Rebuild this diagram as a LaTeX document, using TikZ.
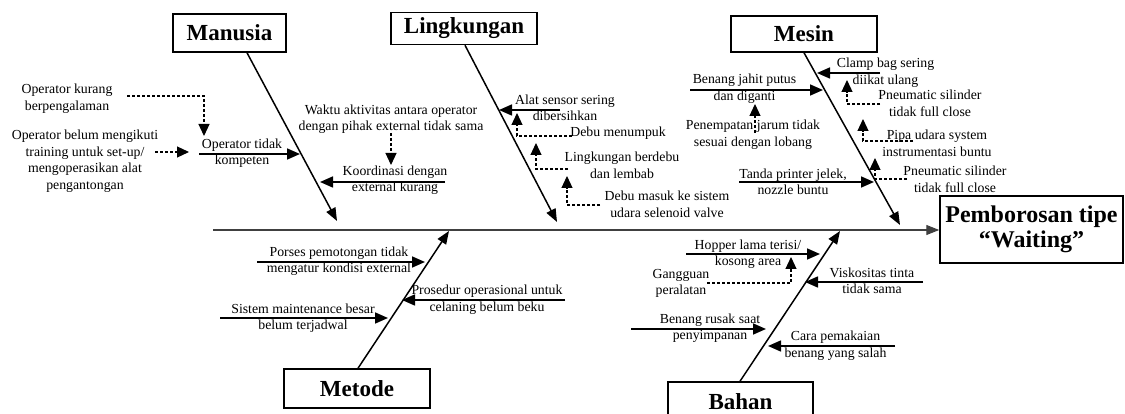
\documentclass[tikz,border=0pt]{standalone}
\usepackage{fontspec}
\setmainfont{Liberation Serif}
\usetikzlibrary{arrows.meta}
\begin{document}
\begin{tikzpicture}[x=1pt,y=-1pt,
  cat/.style={draw, line width=1.5pt, inner sep=0pt, font=\fontsize{23}{25}\selectfont\bfseries},
  lbl/.style={align=center, inner sep=0pt, font=\fontsize{13.8}{16.5}\selectfont},
  arr/.style={line width=1.6pt, -{Triangle[length=13pt,width=11pt]}},
  darr/.style={line width=1.2pt, dash pattern=on 3pt off 2pt, -{Triangle[length=12pt,width=11pt]}},
  bone/.style={line width=1.5pt, -{Triangle[length=13pt,width=10pt]}},
  spine/.style={line width=1.2pt, draw=black!75, -{Triangle[length=13pt,width=10pt]}}]
\useasboundingbox (0,0) rectangle (1125,414);
\fill[white] (0,0) rectangle (1125,414);

% category boxes
\node[cat, minimum width=113pt, minimum height=38pt] (manusia) at (229.5,33) {Manusia};
\node[cat, minimum width=146pt, minimum height=32pt] (lingkungan) at (464,28.5) {Lingkungan};
\node[cat, minimum width=146pt, minimum height=36pt] (mesin) at (804,34) {Mesin};
\node[cat, minimum width=146pt, minimum height=39pt] (metode) at (357,388.5) {Metode};
\node[cat, minimum width=145pt, minimum height=40pt] (bahan) at (740.5,402) {Bahan};
\node[cat, minimum width=183pt, minimum height=67pt, align=center, font=\fontsize{24}{25}\selectfont\bfseries] (effect) at (1031.5,229.5) {Pemborosan tipe\\“Waiting”};

% spine and bones
\coordinate (sp0) at (213,230);
\draw[spine] (sp0) -- (effect.west |- sp0);
\coordinate (bm) at (337,221);
\coordinate (bl) at (557,222);
\coordinate (bs) at (900,225);
\coordinate (bt) at (449,231);
\coordinate (bb) at (840,231);
\draw[bone] (247,0 |- manusia.south) -- (bm);
\draw[bone] (465,0 |- lingkungan.south) -- (bl);
\draw[bone] (804,0 |- mesin.south) -- (bs);
\draw[bone] (358,0 |- metode.north) -- (bt);
\draw[bone] (740,0 |- bahan.north) -- (bb);

% ---------- Manusia ----------
\node[lbl] (t1) at (67,98.5) {Operator kurang\\berpengalaman};
\node[lbl] (t2) at (85,161) {Operator belum mengikuti\\training untuk set-up/\\mengoperasikan alat\\pengantongan};
\node[lbl] (t3) at (242,153) {Operator tidak\\kompeten};
\node[lbl] (t4) at (391,119) {Waktu aktivitas antara operator\\dengan pihak external tidak sama};
\node[lbl] (t5) at (395,180) {Koordinasi dengan\\external kurang};
\coordinate (a3s) at (199,154); \coordinate (a3e) at (300,154);
\draw[arr] (a3s) -- (a3e);
\coordinate (a5s) at (445,182); \coordinate (a5e) at (320,182);
\draw[arr] (a5s) -- (a5e);
\coordinate (d1s) at (127,96); \coordinate (d1e) at (204,136);
\draw[darr] (d1s) -| (d1e);
\coordinate (d2s) at (155,152); \coordinate (d2e) at (189,152);
\draw[darr] (d2s) -- (d2e);
\coordinate (d3s) at (391,133); \coordinate (d3e) at (391,165);
\draw[darr] (d3s) -- (d3e);

% ---------- Lingkungan ----------
\node[lbl] (t6) at (565,108) {Alat sensor sering\\dibersihkan};
\node[lbl] (t7) at (618,133) {Debu menumpuk};
\node[lbl] (t8) at (622,165.5) {Lingkungan berdebu\\dan lembab};
\node[lbl] (t9) at (667,204.5) {Debu masuk ke sistem\\udara selenoid valve};
\coordinate (a6s) at (560,110); \coordinate (a6e) at (499,110);
\draw[arr] (a6s) -- (a6e);
\coordinate (d4s) at (572,136); \coordinate (d4e) at (517,113);
\draw[darr] (d4s) -| (d4e);
\coordinate (d5s) at (568,169); \coordinate (d5e) at (536,143);
\draw[darr] (d5s) -| (d5e);
\coordinate (d6s) at (600,205); \coordinate (d6e) at (567,176);
\draw[darr] (d6s) -| (d6e);

% ---------- Mesin ----------
\node[lbl] (t10) at (744.5,88.5) {Benang jahit putus\\dan diganti};
\node[lbl] (t11) at (753,134.5) {Penempatan jarum tidak\\sesuai dengan lobang};
\node[lbl] (t12) at (793,182) {Tanda printer jelek,\\nozzle buntu};
\node[lbl] (t13) at (885.5,72.5) {Clamp bag sering\\diikat ulang};
\node[lbl] (t14) at (930,103.5) {Pneumatic silinder\\tidak full close};
\node[lbl] (t15) at (937,143.5) {Pipa udara system\\instrumentasi buntu};
\node[lbl] (t16) at (955,179.5) {Pneumatic silinder\\tidak full close};
\coordinate (a10s) at (690,90); \coordinate (a10e) at (823,90);
\draw[arr] (a10s) -- (a10e);
\coordinate (d7s) at (755,133); \coordinate (d7e) at (755,104);
\draw[darr] (d7s) -- (d7e);
\coordinate (a12s) at (739,182); \coordinate (a12e) at (874,182);
\draw[arr] (a12s) -- (a12e);
\coordinate (a13s) at (880,73); \coordinate (a13e) at (817,73);
\draw[arr] (a13s) -- (a13e);
\coordinate (d8s) at (880,104); \coordinate (d8e) at (847,80);
\draw[darr] (d8s) -| (d8e);
\coordinate (d9s) at (913,141); \coordinate (d9e) at (863,119);
\draw[darr] (d9s) -| (d9e);
\coordinate (d10s) at (907,179); \coordinate (d10e) at (875,158);
\draw[darr] (d10s) -| (d10e);

% ---------- Metode ----------
\node[lbl] (t17) at (339,261) {Porses pemotongan tidak\\mengatur kondisi external};
\node[lbl] (t18) at (303,318) {Sistem maintenance besar\\belum terjadwal};
\node[lbl] (t19) at (487,299.5) {Prosedur operasional untuk\\celaning belum beku};
\coordinate (a17s) at (257,262); \coordinate (a17e) at (425,262);
\draw[arr] (a17s) -- (a17e);
\coordinate (a18s) at (220,318); \coordinate (a18e) at (388,318);
\draw[arr] (a18s) -- (a18e);
\coordinate (a19s) at (565,300); \coordinate (a19e) at (402,300);
\draw[arr] (a19s) -- (a19e);

% ---------- Bahan ----------
\node[lbl] (t20) at (748,254) {Hopper lama terisi/\\kosong area};
\node[lbl] (t21) at (681,283.5) {Gangguan\\peralatan};
\node[lbl] (t22) at (872,281) {Viskositas tinta\\tidak sama};
\node[lbl] (t23) at (710,328) {Benang rusak saat\\penyimpanan};
\node[lbl] (t24) at (835.5,345.5) {Cara pemakaian\\benang yang salah};
\coordinate (a20s) at (686,254); \coordinate (a20e) at (820,254);
\draw[arr] (a20s) -- (a20e);
\coordinate (d11s) at (707,283); \coordinate (d11e) at (791,257);
\draw[darr] (d11s) -| (d11e);
\coordinate (a22s) at (923,282); \coordinate (a22e) at (805,282);
\draw[arr] (a22s) -- (a22e);
\coordinate (a23s) at (631,329); \coordinate (a23e) at (766,329);
\draw[arr] (a23s) -- (a23e);
\coordinate (a24s) at (895,346); \coordinate (a24e) at (768,346);
\draw[arr] (a24s) -- (a24e);
\end{tikzpicture}
\end{document}
